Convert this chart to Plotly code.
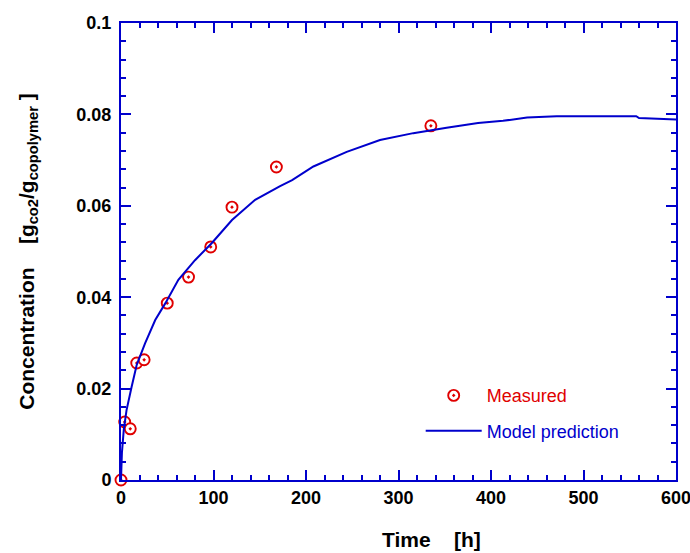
import plotly.graph_objects as go

# Measured data
meas_t = [0, 4, 10, 17, 25, 50, 73, 97, 120, 168, 335]
meas_c = [0.0, 0.0127, 0.0112, 0.0256, 0.0263, 0.0387, 0.0444, 0.0510, 0.0597, 0.0685, 0.0775]

# Model prediction
model_t = [0, 1, 3, 6, 11.5, 17, 26, 37, 48, 62, 80, 98, 120, 145, 172, 185, 208, 244, 280,
           316, 352, 386, 413, 439, 471, 520, 557, 560, 593, 600]
model_c = [0.0, 0.006, 0.011, 0.0153, 0.0204, 0.0252, 0.0299, 0.0350, 0.0387, 0.0438, 0.0481,
           0.0518, 0.0569, 0.0613, 0.0643, 0.0656, 0.0686, 0.0718, 0.0744, 0.0759, 0.0771,
           0.0781, 0.0786, 0.0793, 0.0796, 0.0796, 0.0796, 0.0792, 0.0790, 0.0789]

x_ticks = [0, 100, 200, 300, 400, 500, 600]
y_ticks = [0, 0.02, 0.04, 0.06, 0.08, 0.1]
y_ticktext = ["0", "0.02", "0.04", "0.06", "0.08", "0.1"]

BLUE = "#0000cc"
RED = "#e00000"
FONT = "Arial, Liberation Sans"

fig = go.Figure()
fig.add_trace(go.Scatter(
    x=meas_t, y=meas_c, mode="markers",
    name='<span style="color:#e00000">Measured</span>',
    legendgroup="m", cliponaxis=False,
    marker=dict(symbol="circle-dot", size=11, color="white",
                line=dict(color=RED, width=1.9)),
))
fig.add_trace(go.Scatter(
    x=model_t, y=model_c, mode="lines",
    name='<span style="color:#0000cc">Model prediction</span>',
    legendgroup="p",
    line=dict(color=BLUE, width=2),
))

axis_common = dict(
    showline=True, linecolor=BLUE, linewidth=2, mirror="ticks",
    ticks="inside", tickcolor=BLUE, tickwidth=2, ticklen=10,
    showgrid=False, zeroline=False, ticklabeloverflow="allow",
    tickfont=dict(family=FONT, size=18, color="black", weight="bold"),
)

fig.update_layout(
    width=690, height=553,
    margin=dict(l=121, r=14, t=23, b=73, autoexpand=False),
    paper_bgcolor="white", plot_bgcolor="white",
    font=dict(family=FONT, color="black"),
    xaxis=dict(range=[0, 600], tickvals=x_ticks,
               minor=dict(dtick=20, ticks="inside", ticklen=5, tickcolor=BLUE, tickwidth=2),
               **axis_common),
    yaxis=dict(range=[0, 0.1], tickvals=y_ticks, ticktext=y_ticktext,
               ticklabelstandoff=4,
               minor=dict(dtick=0.004, ticks="inside", ticklen=5, tickcolor=BLUE, tickwidth=2),
               title=dict(text="<b>Concentration&nbsp;&nbsp;&nbsp; [g<sub>co2</sub>/g<sub>copolymer</sub>&nbsp;]</b>",
                          font=dict(size=21), standoff=36),
               **axis_common),
    legend=dict(x=0.54, y=0.225, xanchor="left", yanchor="top",
                bgcolor="rgba(0,0,0,0)", font=dict(size=18, family=FONT),
                itemwidth=56, tracegroupgap=9),
    showlegend=True,
    annotations=[dict(text="<b>Time&nbsp;&nbsp;&nbsp; [h]</b>", xref="paper", yref="paper",
                      x=0.559, y=0, xanchor="center", yanchor="top", yshift=-46,
                      showarrow=False, font=dict(size=21, family=FONT, color="black"))],
)

fig.write_html("out.html", config={"displayModeBar": False},
               post_script="document.body.style.margin='0';")
